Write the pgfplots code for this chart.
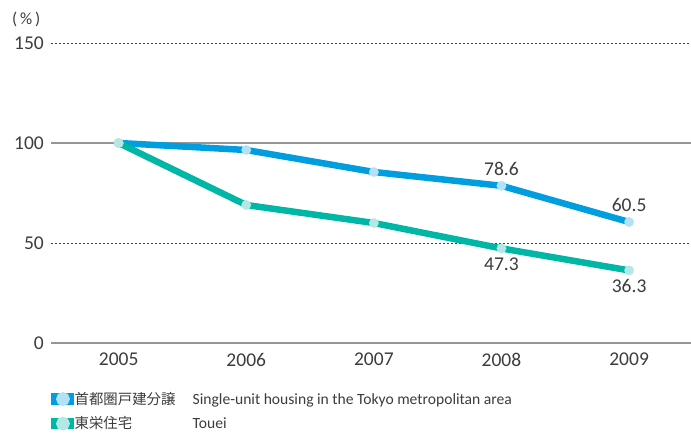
\documentclass[border=0pt]{standalone}
\usepackage{fontspec}
\setmainfont{Carlito}
\newfontfamily\cjk{Noto Sans CJK JP}
\usepackage{pgfplots}
\pgfplotsset{compat=1.18}
\definecolor{cblue}{RGB}{0,158,222}
\definecolor{cteal}{RGB}{0,182,165}
\definecolor{txt}{RGB}{60,60,60}
\definecolor{axgray}{RGB}{150,150,150}
\begin{document}
\begin{tikzpicture}
\useasboundingbox (0,0) rectangle (691pt,434pt);
\begin{axis}[
  at={(51pt,91pt)}, anchor=south west,
  scale only axis, width=640pt, height=300pt,
  xmin=2004.47, xmax=2009.485, ymin=0, ymax=150,
  axis lines*=left,
  y axis line style={draw=none},
  x axis line style={axgray, line width=1.5pt},
  xtick={2005,2006,2007,2008,2009},
  xticklabel style={/pgf/number format/1000 sep=, inner sep=0pt, anchor=north, yshift=-10pt},
  ytick={0,50,150},
  extra y ticks={100},
  extra y tick style={grid style={solid, axgray, line width=1.5pt}},
  ymajorgrids,
  grid style={dash pattern=on 2pt off 2pt, black!75, line width=0.8pt},
  major tick length=0pt,
  yticklabel style={inner sep=0pt, anchor=east, xshift=-7pt},
  tick label style={font=\fontsize{19.5}{22}\selectfont, text=txt},
  /pgf/number format/assume math mode=true,
  clip=false,
  point meta=explicit symbolic,
  nodes near coords,
  legend cell align=left,
  legend style={at={(0,0)}, anchor=north west, xshift=-3pt, yshift=-46pt, draw=none, fill=none,
    font=\fontsize{15.6}{17}\selectfont, text=txt, row sep=9pt,
    nodes={inner sep=1pt}},
]
\addplot[cblue, line width=6.5pt, mark=*, mark size=4.8pt,
  mark options={solid, line width=0.1pt, draw=cblue!30!white, fill=cblue!30!white},
  every node near coord/.append style={anchor=south, inner sep=0pt, yshift=10pt, text=txt, font=\fontsize{19.5}{22}\selectfont},
  legend image code/.code={\fill[cblue] (0pt,-2.5pt) rectangle (16pt,2.5pt); \fill[cblue!30!white] (8.5pt,0pt) circle (3.5pt);}]
  coordinates {(2005,100) [] (2006,96.5) [] (2007,85.5) [] (2008,78.6) [78.6] (2009,60.5) [60.5]};
\addlegendentry{\hspace*{0pt}\makebox[118pt][l]{\cjk\fontsize{14.4}{17}\selectfont 首都圏戸建分譲}Single-unit housing in the Tokyo metropolitan area}
\addplot[cteal, line width=6.5pt, mark=*, mark size=4.8pt,
  mark options={solid, line width=0.1pt, draw=cteal!30!white, fill=cteal!30!white},
  every node near coord/.append style={anchor=north, inner sep=0pt, yshift=-9pt, text=txt, font=\fontsize{19.5}{22}\selectfont},
  legend image code/.code={\fill[cteal] (0pt,-2.5pt) rectangle (16pt,2.5pt); \fill[cteal!30!white] (8.5pt,0pt) circle (3.5pt);}]
  coordinates {(2005,100) [] (2006,69) [] (2007,60) [] (2008,47.3) [47.3] (2009,36.3) [36.3]};
\addlegendentry{\hspace*{0pt}\makebox[118pt][l]{\cjk\fontsize{14.4}{17}\selectfont 東栄住宅}Touei}
\end{axis}
\node[anchor=west, inner sep=0pt, text=txt, font=\fontsize{17}{20}\selectfont] at (12pt,414.5pt) {(\,\%\,)};
\end{tikzpicture}
\end{document}
